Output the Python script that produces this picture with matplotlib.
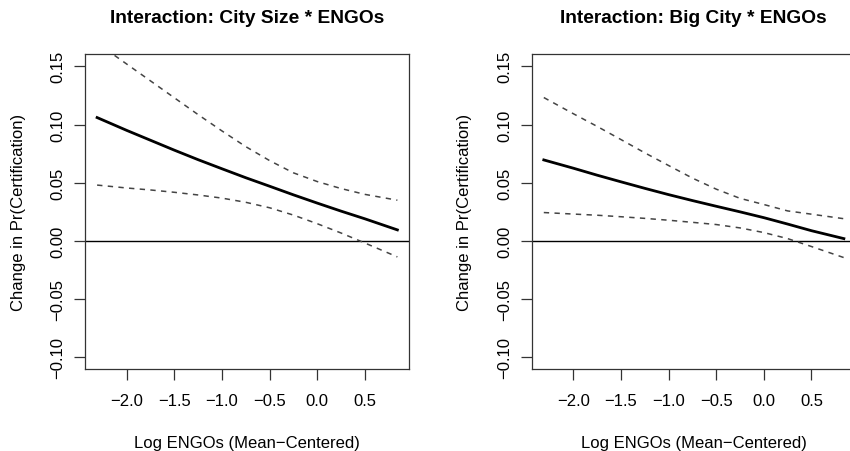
import numpy as np
import matplotlib
matplotlib.use("Agg")
import matplotlib.pyplot as plt

plt.rcParams['font.family'] = ['Liberation Sans', 'DejaVu Sans']

# x grid (log ENGOs, mean-centered)
engos = [-2.31, -2.0, -1.75, -1.5, -1.25, -1.0, -0.75, -0.5, -0.25, 0.0, 0.25, 0.5, 0.84]

# panel 1: City Size * ENGOs (estimate, upper and lower bound)
size_fit = [0.106, 0.095, 0.0865, 0.078, 0.0698, 0.062, 0.0543, 0.047, 0.0396, 0.0325, 0.0256, 0.019, 0.0095]
size_hi = [0.170, 0.152, 0.1375, 0.123, 0.1085, 0.0945, 0.081, 0.069, 0.0585, 0.051, 0.045, 0.040, 0.035]
size_lo = [0.048, 0.0455, 0.0438, 0.0418, 0.0395, 0.0368, 0.0332, 0.0285, 0.0222, 0.0148, 0.0068, -0.0018, -0.0137]

# panel 2: Big City * ENGOs
big_fit = [0.0696, 0.0625, 0.0565, 0.0508, 0.0452, 0.0398, 0.0347, 0.0298, 0.0250, 0.0200, 0.0145, 0.0088, 0.0020]
big_hi = [0.1232, 0.1093, 0.0984, 0.0871, 0.0757, 0.0648, 0.054, 0.0445, 0.0366, 0.0313, 0.0258, 0.023, 0.0191]
big_lo = [0.0244, 0.0231, 0.0221, 0.0208, 0.0194, 0.0178, 0.016, 0.0141, 0.0112, 0.0072, 0.002, -0.0048, -0.0143]

titles = ["Interaction: City Size * ENGOs", "Interaction: Big City * ENGOs"]
xticks = [-2.0, -1.5, -1.0, -0.5, 0.0, 0.5]
yticks = [-0.10, -0.05, 0.00, 0.05, 0.10, 0.15]

W, H = 850, 452
fig = plt.figure(figsize=(W / 100, H / 100), dpi=100)

# axes boxes in pixels: left, right, top, bottom (right panel runs past the edge)
boxes = [(85, 409, 55, 370), (531.7, 855.5, 55, 370)]
panels = [(size_fit, size_hi, size_lo), (big_fit, big_hi, big_lo)]

def lab(v, fmt):
    return (fmt % v).replace('-', '\u2212')

for (l, r, t, b), (fit, hi, lo), title in zip(boxes, panels, titles):
    ax = fig.add_axes([l / W, (H - b) / H, (r - l) / W, (b - t) / H])
    ax.axhline(0, color='black', lw=1.0)
    ax.plot(engos, fit, color='black', lw=2.0)
    ax.plot(engos, hi, color='#444444', lw=1.1, dashes=(3.5, 3.5))
    ax.plot(engos, lo, color='#444444', lw=1.1, dashes=(3.5, 3.5))
    ax.set_xlim(-2.437, 0.962)
    ax.set_ylim(-0.110, 0.1606)
    ax.set_xticks(xticks)
    ax.set_xticklabels([lab(v, '%.1f') for v in xticks])
    ax.set_yticks(yticks)
    ax.set_yticklabels([lab(v, '%.2f') for v in yticks], rotation=90, va='center')
    ax.tick_params(length=8, width=0.9, color='#333333', labelsize=12)
    ax.tick_params(axis='x', pad=9)
    ax.tick_params(axis='y', pad=6)
    for s in ax.spines.values():
        s.set_color('#333333')
        s.set_linewidth(0.9)
    ax.set_xlabel("Log ENGOs (Mean\u2212Centered)", fontsize=12, labelpad=20)
    ax.set_ylabel("Change in Pr(Certification)", fontsize=12, labelpad=18)
    ax.set_title(title, fontsize=13.8, fontweight='bold', pad=23)

fig.savefig("out.png", dpi=100)
